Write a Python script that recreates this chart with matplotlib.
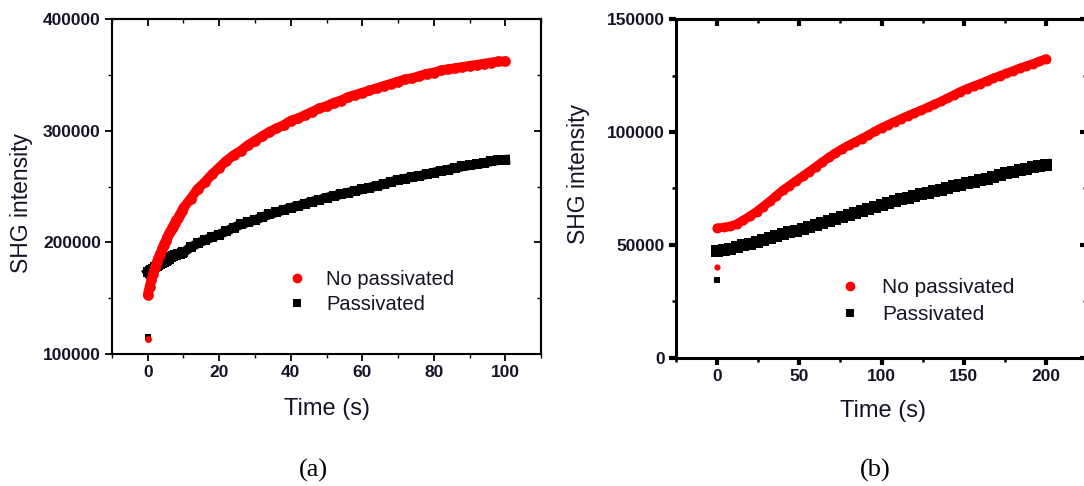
import matplotlib
matplotlib.use("Agg")
import matplotlib.pyplot as plt
from matplotlib.lines import Line2D
from matplotlib.ticker import MultipleLocator

plt.rcParams['font.family'] = ['Liberation Sans', 'DejaVu Sans']
TXT = '#141428'
RED = '#ff0000'

# (a) 100 s run
t_a = [0, 0.5, 1, 1.5, 2, 2.5, 3, 3.5, 4, 4.5, 5, 5.5, 6, 6.5, 7, 7.5, 8, 8.5, 9, 9.5, 10,
       12, 14, 16, 18, 20, 22, 24, 26, 28, 30, 32, 34, 36, 38, 40, 42, 44, 46, 48, 50,
       52, 54, 56, 58, 60, 62, 64, 66, 68, 70, 72, 74, 76, 78, 80, 82, 84, 86, 88, 90,
       92, 94, 96, 98, 100]
nopass_a = [153000, 160000, 166000, 172000, 177000, 182000, 186000, 190000, 194000, 198000,
            201000, 205000, 208000, 211000, 214000, 217000, 220000, 222000, 225000, 228000,
            231000, 239000, 248000, 254000, 261000, 267000, 273000, 278000, 282000, 287000,
            291000, 295000, 299000, 302000, 305000, 309000, 311000, 314000, 317000, 320000,
            322000, 325000, 327000, 330000, 332000, 334000, 336000, 338000, 340000, 342000,
            344000, 346000, 347000, 349000, 351000, 352000, 354000, 355000, 356000, 357000,
            358000, 359000, 360000, 361000, 362000, 362000]
pass_a = [173000, 174000, 175000, 176000, 177500, 178500, 179500, 180500, 181500, 182500,
          183500, 184500, 185500, 186500, 187500, 188500, 189000, 189500, 190000, 190500,
          191000, 195500, 199000, 202000, 204500, 207000, 210000, 213000, 216000, 218000,
          220000, 222500, 225000, 227000, 229000, 231000, 232500, 234500, 236500, 238000,
          240000, 241500, 243000, 244500, 246000, 247500, 249000, 250500, 252000, 254000,
          256000, 257000, 258500, 259500, 261000, 262500, 264000, 265000, 266500, 268000,
          269000, 270000, 271000, 272500, 273500, 274000]
first_nopass_a = 113500
first_pass_a = 115500

# (b) 200 s run
t_b = list(range(0, 201, 4))
nopass_b = [57500, 57800, 58300, 59300, 61000, 62800, 64800, 67000, 69300, 71800,
            74200, 76300, 78400, 80400, 82500, 84600, 86700, 88800, 90700, 92500,
            94100, 95600, 97100, 98600, 100300, 101900, 103200, 104600, 105900, 107200,
            108400, 109600, 110900, 112200, 113500, 114900, 116400, 117900, 119200, 120300,
            121400, 122600, 123800, 124900, 126000, 127100, 128200, 129200, 130200, 131200,
            132400]
pass_b = [47500, 47900, 48300, 49000, 49800, 50600, 51500, 52400, 53300, 54200,
          55000, 55600, 56200, 57000, 57900, 58700, 59600, 60500, 61400, 62300,
          63200, 64000, 64900, 65800, 66900, 67900, 68700, 69400, 70200, 71000,
          71900, 72500, 73100, 73800, 74500, 75200, 75900, 76600, 77400, 78000,
          78700, 79400, 80200, 80900, 81700, 82400, 83100, 83800, 84500, 85100,
          85600]
first_nopass_b = 40200
first_pass_b = 34600

fig = plt.figure(figsize=(10.84, 4.86), dpi=100)
ax1 = fig.add_axes([0.1033, 0.2716, 0.3958, 0.6893])
ax2 = fig.add_axes([0.6236, 0.2634, 0.3792, 0.6975])


def style(ax, xmaj, xmin, ymaj, ymin, lw, tw_maj, tw_min):
    for s in ax.spines.values():
        s.set_linewidth(lw)
    ax.xaxis.set_major_locator(MultipleLocator(xmaj))
    ax.xaxis.set_minor_locator(MultipleLocator(xmin))
    ax.yaxis.set_major_locator(MultipleLocator(ymaj))
    ax.yaxis.set_minor_locator(MultipleLocator(ymin))
    ax.tick_params(which='major', direction='out', length=5, width=tw_maj,
                   labelsize=12.5, labelcolor=TXT, pad=3)
    ax.tick_params(which='minor', direction='out', length=3, width=tw_min)
    for lab in ax.get_xticklabels() + ax.get_yticklabels():
        lab.set_fontweight('bold')
    # inward ticks on top and right, no labels
    top = ax.secondary_xaxis('top')
    top.xaxis.set_major_locator(MultipleLocator(xmaj))
    top.xaxis.set_minor_locator(MultipleLocator(xmin))
    top.tick_params(which='major', direction='in', length=5, width=tw_maj, labeltop=False)
    top.tick_params(which='minor', direction='in', length=3, width=tw_min)
    top.spines['top'].set_linewidth(lw)
    right = ax.secondary_yaxis('right')
    right.yaxis.set_major_locator(MultipleLocator(ymaj))
    right.yaxis.set_minor_locator(MultipleLocator(ymin))
    right.tick_params(which='major', direction='in', length=5, width=tw_maj, labelright=False)
    right.tick_params(which='minor', direction='in', length=3, width=tw_min)
    right.spines['right'].set_linewidth(lw)


def band(ax, t, y, color, marker, lw):
    # dense points drawn as a thick trace with the markers on top
    cap = 'round' if marker == 'o' else 'projecting'
    ax.plot(t, y, '-', color=color, lw=lw, solid_capstyle=cap, solid_joinstyle='round')
    ax.plot(t, y, marker, color=color, ms=lw * 1.1, mew=0)


# panel (a)
band(ax1, t_a, pass_a, 'black', 's', 7)
ax1.plot([0], [first_pass_a], 's', color='black', ms=4.5, mew=0)
band(ax1, t_a, nopass_a, RED, 'o', 7)
ax1.plot([0], [first_nopass_a], 'o', color=RED, ms=5, mew=0)
ax1.set_xlim(-10, 110)
ax1.set_ylim(100000, 400000)
style(ax1, 20, 10, 100000, 50000, 1.5, 1.3, 1.0)
ax1.set_xlabel('Time (s)', fontsize=17, color=TXT)
ax1.set_ylabel('SHG intensity', fontsize=16.5, color=TXT)
ax1.xaxis.set_label_coords(0.5, -0.131)
ax1.yaxis.set_label_coords(-0.184, 0.45)
h1 = [Line2D([], [], ls='', marker='o', color=RED, ms=7, mew=0),
      Line2D([], [], ls='', marker='s', color='black', ms=6, mew=0)]
ax1.legend(h1, ['No passivated', 'Passivated'], loc='center left',
           bbox_to_anchor=(0.408, 0.185), frameon=False, fontsize=14.5,
           handlelength=1, handletextpad=0.95, labelspacing=0.28,
           borderpad=0, borderaxespad=0, labelcolor=TXT)

# panel (b)
band(ax2, t_b, pass_b, 'black', 's', 7.5)
ax2.plot([0], [first_pass_b], 's', color='black', ms=4.5, mew=0)
band(ax2, t_b, nopass_b, RED, 'o', 6.5)
ax2.plot([0], [first_nopass_b], 'o', color=RED, ms=4.5, mew=0)
ax2.set_xlim(-25, 225)
ax2.set_ylim(0, 150000)
style(ax2, 50, 25, 50000, 25000, 2.2, 3.0, 1.8)
ax2.set_xlabel('Time (s)', fontsize=17, color=TXT)
ax2.set_ylabel('SHG intensity', fontsize=16.5, color=TXT)
ax2.xaxis.set_label_coords(0.503, -0.124)
ax2.yaxis.set_label_coords(-0.209, 0.543)
h2 = [Line2D([], [], ls='', marker='o', color=RED, ms=7, mew=0),
      Line2D([], [], ls='', marker='s', color='black', ms=6, mew=0)]
ax2.legend(h2, ['No passivated', 'Passivated'], loc='center left',
           bbox_to_anchor=(0.398, 0.168), frameon=False, fontsize=15,
           handlelength=1, handletextpad=1.04, labelspacing=0.38,
           borderpad=0, borderaxespad=0, labelcolor=TXT)

# captions
fig.text(313.5 / 1084, 1 - 470 / 486, '(a)', family='Liberation Serif', fontsize=19,
         ha='center', va='center', color='black')
fig.text(875 / 1084, 1 - 470 / 486, '(b)', family='Liberation Serif', fontsize=19,
         ha='center', va='center', color='black')

fig.savefig('out.png', dpi=100)
